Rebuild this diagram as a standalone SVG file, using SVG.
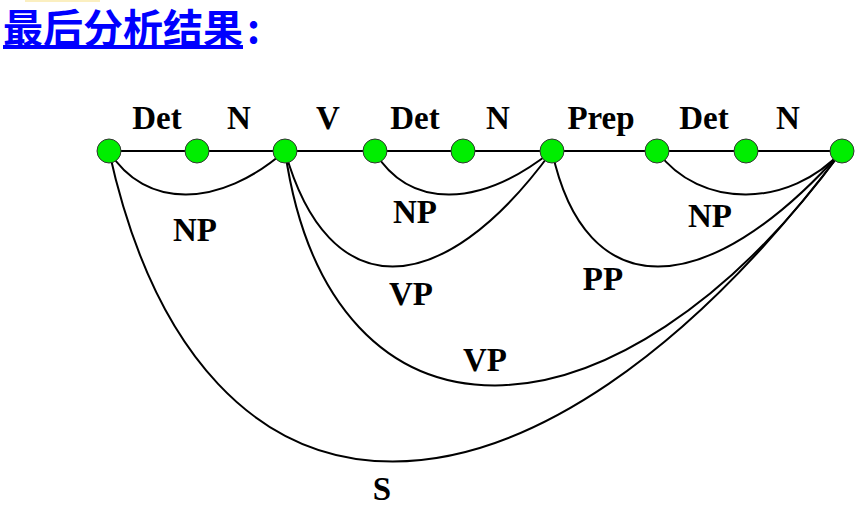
<svg xmlns="http://www.w3.org/2000/svg" width="862" height="514" viewBox="0 0 862 514">
<style>
.lbl{font-family:"Liberation Serif","Times New Roman",serif;font-weight:bold;font-size:33px;fill:#000;text-anchor:middle}
.edge{fill:none;stroke:#000;stroke-width:2}
.node{fill:#00ee00;stroke:#333;stroke-width:1}
.title{font-family:"Noto Sans CJK SC","Noto Sans",sans-serif;font-weight:bold;font-size:40px;fill:#0000ff}
</style>
<rect x="0" y="0" width="862" height="514" fill="#fff"/>
<rect x="25" y="0" width="75" height="2" fill="#fbefc0"/>
<text class="title" x="3" y="43"><tspan text-decoration="underline">最后分析结果</tspan><tspan dx="4">:</tspan></text>
<g id="connectors">
<line class="edge" x1="109" y1="151" x2="842" y2="151"/>
<path class="edge" d="M109,151 C145,210 220,208 285,151"/>
<path class="edge" d="M374,151 C410,210 480,208 552,151"/>
<path class="edge" d="M657,151 C700,210 790,208 842,151"/>
<path class="edge" d="M285,151 C328,305 440,305 552,151"/>
<path class="edge" d="M552,151 C585,305 705,305 842,151"/>
<path class="edge" d="M285,151 C330,465 615,462 842,151"/>
<path class="edge" d="M109,151 C200,565 530,565 842,151"/>
</g>
<g id="n0"><circle class="node" cx="109" cy="151" r="12"/></g>
<g id="n1"><circle class="node" cx="197" cy="151" r="12"/></g>
<g id="n2"><circle class="node" cx="285" cy="151" r="12"/></g>
<g id="n3"><circle class="node" cx="375" cy="151" r="12"/></g>
<g id="n4"><circle class="node" cx="463" cy="151" r="12"/></g>
<g id="n5"><circle class="node" cx="552" cy="151" r="12"/></g>
<g id="n6"><circle class="node" cx="657" cy="151" r="12"/></g>
<g id="n7"><circle class="node" cx="746" cy="151" r="12"/></g>
<g id="n8"><circle class="node" cx="842" cy="151" r="12"/></g>
<g id="labels">
<text class="lbl" x="157" y="129">Det</text>
<text class="lbl" x="239" y="129">N</text>
<text class="lbl" x="328" y="129">V</text>
<text class="lbl" x="415" y="129">Det</text>
<text class="lbl" x="498" y="129">N</text>
<text class="lbl" x="601" y="129">Prep</text>
<text class="lbl" x="704" y="129">Det</text>
<text class="lbl" x="788" y="129">N</text>
<text class="lbl" x="195" y="241">NP</text>
<text class="lbl" x="415" y="223">NP</text>
<text class="lbl" x="710" y="227">NP</text>
<text class="lbl" x="411" y="305">VP</text>
<text class="lbl" x="603" y="290">PP</text>
<text class="lbl" x="485" y="371">VP</text>
<text class="lbl" x="382" y="500">S</text>
</g>
</svg>
